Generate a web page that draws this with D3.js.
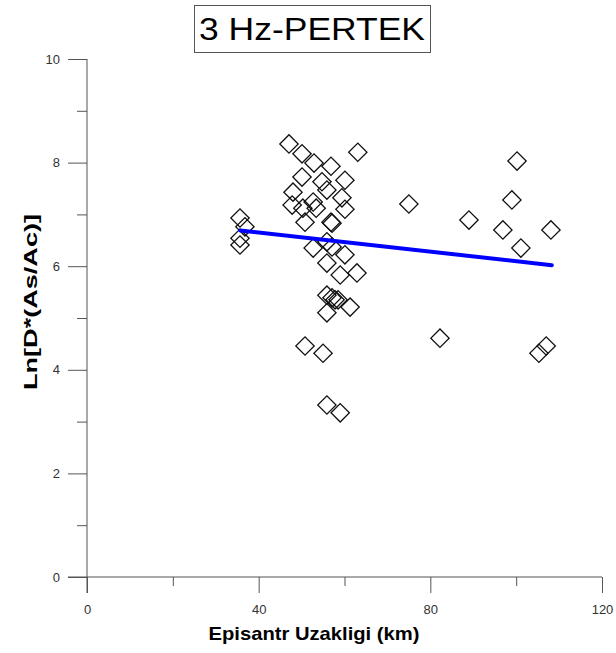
<!DOCTYPE html>
<html><head><meta charset="utf-8">
<script src="https://cdn.jsdelivr.net/npm/d3@7"></script>
<style>body{margin:0;background:#fff}svg{display:block}</style>
</head><body>
<script>
const titleText = "3 Hz-PERTEK";
const xLabel = "Episantr Uzakligi (km)";
const yLabel = "Ln[D*(As/Ac)]";
const xTicks = [0, 40, 80, 120];
const xMinorTicks = [20, 60, 100];
const yTicks = [0, 2, 4, 6, 8, 10];
const yMinorTicks = [1, 3, 5, 7, 9];
const distKm = [35.65,36.8,35.65,35.65,
  47.07,50.1,52.9,56.85,63.1,50.1,54.75,55.9,60.1,48.0,59.4,52.7,47.8,50.3,53.4,60.1,
  50.8,57.1,56.85,52.7,55.9,57.1,60.1,55.9,59.0,62.9,55.9,57.1,57.8,58.5,61.3,55.9,
  50.8,55.0,55.9,59.0,
  75.0,89.0,100.2,99.0,96.9,101.1,108.1,82.25,105.3,107.0];
const lnVal = [6.93,6.76,6.54,6.41,
  8.36,8.17,7.99,7.93,8.20,7.72,7.63,7.47,7.66,7.43,7.32,7.24,7.18,7.12,7.12,7.10,
  6.85,6.83,6.85,6.35,6.47,6.37,6.22,6.06,5.83,5.87,5.44,5.39,5.35,5.35,5.21,5.10,
  4.46,4.32,3.32,3.17,
  7.20,6.89,8.03,7.28,6.70,6.35,6.70,4.61,4.32,4.46];
const fitX = [35.7, 108.3];
const fitY = [6.69, 6.02];

const W = 616, H = 653;
const svg = d3.select("body").append("svg").attr("width", W).attr("height", H);
const x = d3.scaleLinear().domain([0, 120]).range([87, 602]);
const y = d3.scaleLinear().domain([0, 10]).range([577, 59]);
const axisColor = "#555";
const font = "'Liberation Sans', Arial, sans-serif";

// Axes
const xAxis = d3.axisBottom(x).tickValues(xTicks).tickSize(16).tickFormat(d3.format("d"));
const gx = svg.append("g").attr("transform", "translate(0,577)").call(xAxis);
gx.select(".domain").remove();
gx.selectAll("line").attr("stroke", axisColor);
gx.selectAll("text").attr("font-family", font).attr("font-size", 13).attr("fill", "#333").attr("dy", "0.71em").attr("y", 28);
svg.append("g").attr("transform", "translate(0,577)")
  .call(d3.axisBottom(x).tickValues(xMinorTicks).tickSize(9).tickFormat(""))
  .call(g => g.select(".domain").remove())
  .selectAll("line").attr("stroke", axisColor);
svg.append("line").attr("x1", 68).attr("x2", x(120)).attr("y1", 577).attr("y2", 577).attr("stroke", axisColor);

const yAxis = d3.axisLeft(y).tickValues(yTicks).tickSize(19).tickFormat(d3.format("d"));
const gy = svg.append("g").attr("transform", "translate(87,0)").call(yAxis);
gy.select(".domain").remove();
gy.selectAll("line").attr("stroke", axisColor);
gy.selectAll("text").attr("font-family", font).attr("font-size", 13).attr("fill", "#333").attr("x", -27);
svg.append("g").attr("transform", "translate(87,0)")
  .call(d3.axisLeft(y).tickValues(yMinorTicks).tickSize(10).tickFormat(""))
  .call(g => g.select(".domain").remove())
  .selectAll("line").attr("stroke", axisColor);
svg.append("line").attr("x1", 87).attr("x2", 87).attr("y1", y(10)).attr("y2", 593).attr("stroke", axisColor);

// Points
const diamond = d3.symbol().type(d3.symbolSquare).size(168);
svg.append("g").selectAll("path").data(distKm.map((d, i) => [d, lnVal[i]])).join("path")
  .attr("d", diamond)
  .attr("transform", d => `translate(${x(d[0])},${y(d[1])}) rotate(45)`)
  .attr("fill", "none").attr("stroke", "#111").attr("stroke-width", 1.3);

// Regression line
svg.append("line")
  .attr("x1", x(fitX[0])).attr("y1", y(fitY[0]))
  .attr("x2", x(fitX[1])).attr("y2", y(fitY[1]))
  .attr("stroke", "#0000ff").attr("stroke-width", 4).attr("stroke-linecap", "round");

// Title
svg.append("rect").attr("x", 194.5).attr("y", 5.5).attr("width", 236).attr("height", 47)
  .attr("fill", "#fff").attr("stroke", "#555").attr("stroke-width", 1);
svg.append("text").attr("x", 312).attr("y", 40).attr("text-anchor", "middle")
  .attr("font-family", font).attr("font-size", 32).attr("fill", "#000")
  .attr("textLength", 226).attr("lengthAdjust", "spacingAndGlyphs").text(titleText);

// Labels
svg.append("text").attr("x", 314).attr("y", 640).attr("text-anchor", "middle")
  .attr("font-family", font).attr("font-size", 19).attr("font-weight", "bold")
  .attr("textLength", 211).attr("lengthAdjust", "spacingAndGlyphs").text(xLabel);
svg.append("text").attr("transform", "translate(37,302) rotate(-90)").attr("text-anchor", "middle")
  .attr("font-family", font).attr("font-size", 19).attr("font-weight", "bold")
  .attr("textLength", 176).attr("lengthAdjust", "spacingAndGlyphs").text(yLabel);
</script>
</body></html>
